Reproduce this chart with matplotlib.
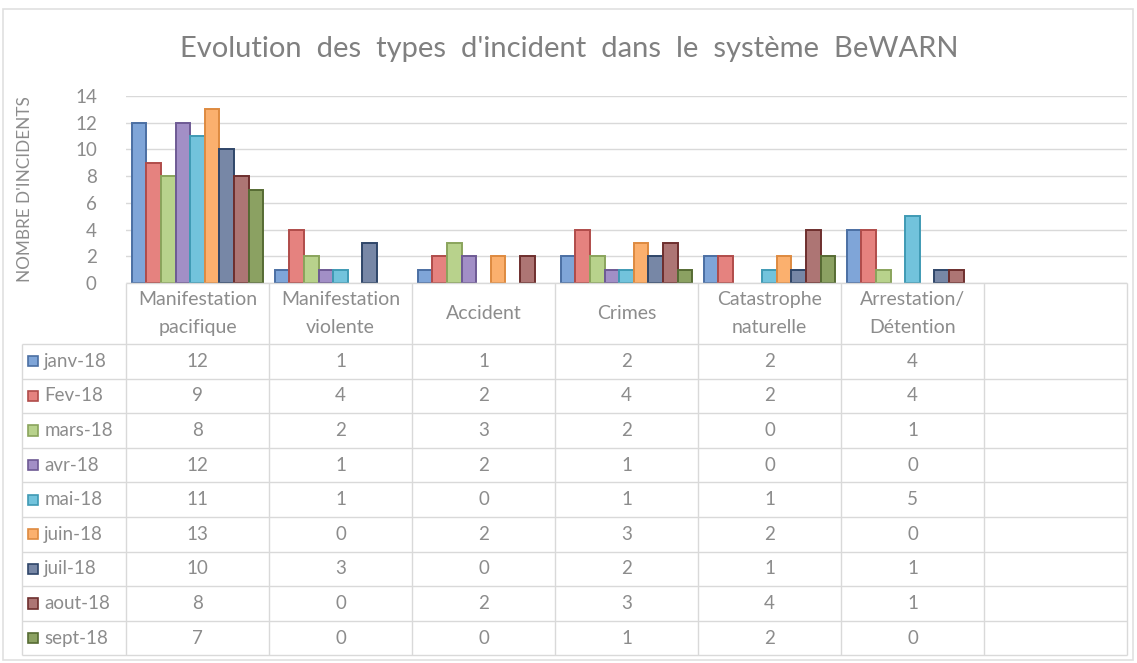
import numpy as np
import matplotlib
matplotlib.use("Agg")
from matplotlib import pyplot as plt
from matplotlib.patches import Rectangle

plt.rcParams['font.family'] = ['Lato', 'DejaVu Sans']

TITLE = "Evolution  des  types  d'incident  dans  le  système  BeWARN"
YLABEL = "NOMBRE D'INCIDENTS"

categories = ["Manifestation\npacifique", "Manifestation\nviolente", "Accident",
              "Crimes", "Catastrophe\nnaturelle", "Arrestation/\nDétention", ""]
months = ["janv-18", "Fev-18", "mars-18", "avr-18", "mai-18",
          "juin-18", "juil-18", "aout-18", "sept-18"]

janv = [12, 1, 1, 2, 2, 4]
fev = [9, 4, 2, 4, 2, 4]
mars = [8, 2, 3, 2, 0, 1]
avr = [12, 1, 2, 1, 0, 0]
mai = [11, 1, 0, 1, 1, 5]
juin = [13, 0, 2, 3, 2, 0]
juil = [10, 3, 0, 2, 1, 1]
aout = [8, 0, 2, 3, 4, 1]
sept = [7, 0, 0, 1, 2, 0]
series = [janv, fev, mars, avr, mai, juin, juil, aout, sept]

fills = ["#7fa5d8", "#e5827f", "#b8d28c", "#a28fc6", "#72c3dc",
         "#fbb06e", "#7787a6", "#ad7574", "#8ba162"]
edges = ["#4b6fa3", "#b04c4a", "#8aa45c", "#6e5a94", "#3f9ab4",
         "#de8a40", "#2f4669", "#6e2f2e", "#566b33"]

TXT = "#8c8c8c"
GRID = "#d9d9d9"

W, H = 1137, 663
fig = plt.figure(figsize=(W / 100, H / 100), dpi=100)

# pixel layout
x_cat0, x_end = 126, 1127
x_leg = 22
y_top, y_zero = 96, 283
y_rows0, row_h = 344, 34.6
n_cat = len(categories)

# bar axes
ax = fig.add_axes([x_cat0 / W, 1 - y_zero / H, (x_end - x_cat0) / W, (y_zero - y_top) / H])
x = np.arange(n_cat)
bw = 0.92 / len(series)
for i, vals in enumerate(series):
    v = np.array(vals, dtype=float)
    v[v == 0] = np.nan  # zero bars are not drawn
    xs = x[:len(vals)] - 0.46 + bw * (i + 0.5)
    ax.bar(xs, v, width=bw, color=fills[i], edgecolor=edges[i], linewidth=1.4, zorder=3)
ax.set_xlim(-0.5, n_cat - 0.5)
ax.set_ylim(0, 14)
ax.set_yticks(range(0, 15, 2))
ax.yaxis.grid(True, color=GRID, linewidth=1.0)
ax.set_axisbelow(True)
ax.set_xticks([])
for s in ax.spines.values():
    s.set_visible(False)
ax.tick_params(axis='y', length=0, labelsize=13.5, labelcolor=TXT, pad=21)
ax.set_ylabel(YLABEL, fontsize=12.3, color=TXT, labelpad=30)

# table axes
legw = (x_cat0 - x_leg) / 143.0
head_h = (y_rows0 - y_zero) / row_h
n_rows = len(months)
tab = fig.add_axes([x_leg / W, 1 - (y_rows0 + n_rows * row_h) / H,
                    (x_end - x_leg) / W, (y_rows0 + n_rows * row_h - y_zero) / H])
tab.set_xlim(-0.5 - legw, n_cat - 0.5)
tab.set_ylim(head_h + n_rows, 0)
tab.axis('off')

lk = dict(color=GRID, linewidth=1.0, clip_on=False)
tab.hlines(0, -0.5, n_cat - 0.5, **lk)
for r in range(n_rows + 1):
    tab.hlines(head_h + r, -0.5 - legw, n_cat - 0.5, **lk)
tab.vlines(-0.5 - legw, head_h, head_h + n_rows, **lk)
for c in range(n_cat + 1):
    tab.vlines(c - 0.5, 0, head_h + n_rows, **lk)

for c, name in enumerate(categories):
    tab.text(c, head_h / 2, name, ha='center', va='center', fontsize=14,
             color=TXT, linespacing=1.75)

for r, (m, vals) in enumerate(zip(months, series)):
    yc = head_h + r + 0.5
    tab.add_patch(Rectangle((-0.5 - legw + 0.045, yc - 0.15), 0.064, 0.30,
                            facecolor=fills[r], edgecolor=edges[r], linewidth=1.2))
    tab.text(-0.5 - legw + 0.155, yc, m, ha='left', va='center', fontsize=13.5, color=TXT)
    for c, v in enumerate(vals):
        tab.text(c, yc, str(v), ha='center', va='center', fontsize=13.5, color=TXT)

fig.text(569 / W, 1 - 49 / H, TITLE, ha='center', va='center', fontsize=21,
         color="#808080")

# outer chart frame
fig.add_artist(Rectangle((3 / W, 3 / H), (W - 7) / W, (H - 12) / H, transform=fig.transFigure,
                         fill=False, edgecolor="#e0e0e0", linewidth=1.2))

fig.savefig("out.png", dpi=100)
